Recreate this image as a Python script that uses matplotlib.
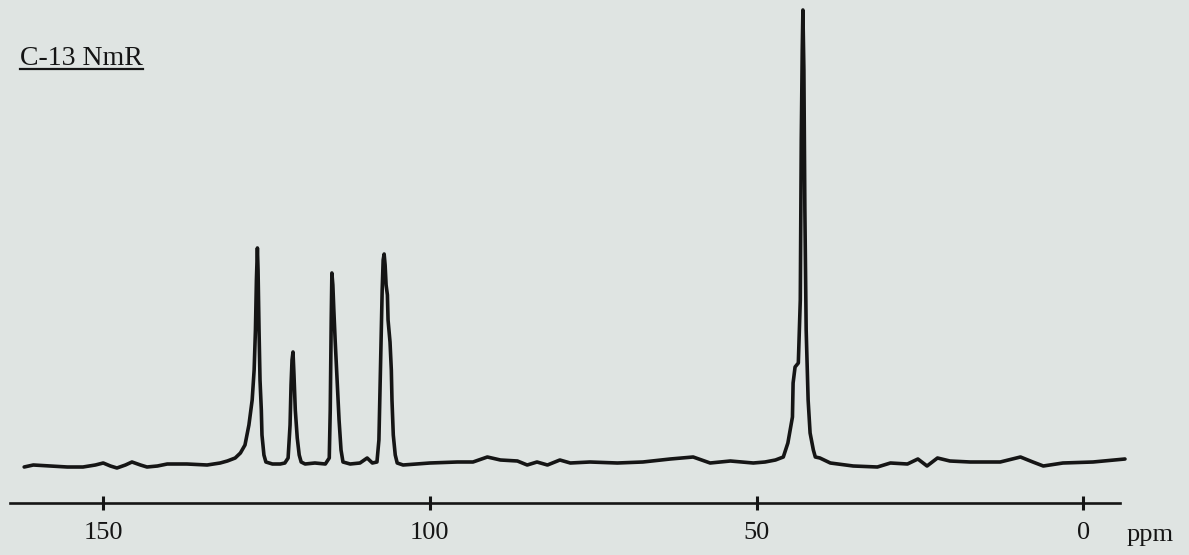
import matplotlib
matplotlib.use("Agg")
import matplotlib.pyplot as plt
from matplotlib.lines import Line2D

# ---- data (chemical shift in ppm, intensity in arbitrary units) ----
ppm = [162.1, 160.7, 158.1, 155.5, 153.1, 151.2, 150.0, 148.9, 147.9, 146.6, 145.6, 144.3,
       143.3, 141.7, 140.2, 137.2, 134.1, 132.1, 131.0, 129.8, 129.0, 128.3, 127.7, 127.2,
       126.9, 126.7, 126.55, 126.4, 126.3, 126.15, 126.0, 125.8, 125.7, 125.4, 125.1, 124.1,
       122.9, 122.2, 121.7, 121.4, 121.25, 121.1, 120.95, 120.8, 120.6, 120.3, 120.0, 119.7,
       119.1, 117.6, 116.0, 115.4, 115.25, 115.1, 115.0, 114.85, 114.7, 114.5, 114.2, 113.9,
       113.6, 113.3, 112.2, 110.7, 109.6, 108.8, 108.1, 107.8, 107.6, 107.45, 107.3, 107.15,
       107.0, 106.85, 106.7, 106.5, 106.4, 106.2, 106.1, 105.9, 105.8, 105.6, 105.3, 105.0,
       104.1, 100.0, 95.8, 93.4, 91.2, 89.2, 86.6, 85.1, 83.6, 82.0, 80.1, 78.5, 75.5, 71.3,
       67.4, 63.2, 59.7, 57.1, 54.0, 50.5, 48.7, 47.1, 45.9, 45.2, 44.5, 44.4, 44.1, 43.6,
       43.3, 43.15, 43.0, 42.9, 42.75, 42.6, 42.4, 42.1, 41.8, 41.3, 41.0, 40.3, 38.7, 35.2,
       31.5, 29.5, 26.9, 25.3, 23.9, 22.3, 20.4, 17.3, 15.3, 12.7, 9.6, 7.7, 6.1, 3.1, -1.5,
       -6.4]
intensity = [3, 5, 4, 3, 3, 5, 7, 4, 2, 5, 8, 5,
             3, 4, 6, 6, 5, 7, 9, 12, 17, 25, 45, 70,
             100, 140, 190, 222, 200, 140, 90, 60, 35, 15, 8, 6,
             6, 7, 12, 45, 85, 110, 118, 95, 60, 32, 15, 8,
             6, 7, 6, 12, 60, 150, 197, 185, 160, 130, 90, 50,
             20, 8, 6, 7, 12, 7, 8, 30, 90, 140, 180, 210,
             216, 205, 185, 175, 150, 135, 128, 100, 70, 35, 15, 7,
             5, 7, 8, 8, 13, 10, 9, 5, 8, 5, 10, 7, 8, 7,
             8, 11, 13, 7, 9, 7, 8, 10, 13, 27, 53, 87, 103, 107,
             170, 330, 420, 460, 400, 260, 140, 70, 37, 20, 13, 12, 7, 4,
             3, 7, 6, 11, 4, 12, 9, 8, 8, 8, 13, 8, 4, 7, 8,
             11]
tick_values = [150, 100, 50, 0]
tick_labels = ["150", "100", "50", "0"]
title_text = "C-13 NmR"
unit_text = "ppm"

ink = "#151515"
paper = "#dfe4e2"
serif = ["Liberation Serif", "DejaVu Serif"]

fig = plt.figure(figsize=(11.89, 5.55), dpi=100, facecolor=paper)
ax = fig.add_axes([0, 0, 1, 1], facecolor=paper)

ax.plot(ppm, intensity, color=ink, lw=2.6, solid_joinstyle="round", solid_capstyle="round")

ax.set_xlim(165.8, -16.2)
ax.set_ylim(-85, 470)

for s in ["top", "left", "right"]:
    ax.spines[s].set_visible(False)
ax.spines["bottom"].set_position(("data", -33))
ax.spines["bottom"].set_bounds(164.2, -5.7)
ax.spines["bottom"].set_linewidth(1.9)
ax.spines["bottom"].set_color(ink)
ax.set_yticks([])
ax.set_xticks(tick_values)
ax.set_xticklabels(tick_labels, fontfamily=serif, fontsize=19, color=ink)
ax.tick_params(axis="x", direction="inout", length=10, width=2.2, color=ink, pad=9)

ax.text(-6.6, -65, unit_text, fontfamily=serif, fontsize=19, color=ink,
        ha="left", va="center")

t = ax.text(162.7, 405, title_text, fontfamily=serif, fontsize=20, color=ink,
            ha="left", va="baseline")
fig.canvas.draw()
bb = t.get_window_extent()
H = fig.bbox.height
yline = (bb.y0 + 2) / H
fig.add_artist(Line2D([bb.x0 / fig.bbox.width, bb.x1 / fig.bbox.width], [yline, yline],
                      color=ink, lw=1.6, transform=fig.transFigure))

fig.savefig("out.png", dpi=100, facecolor=paper)
